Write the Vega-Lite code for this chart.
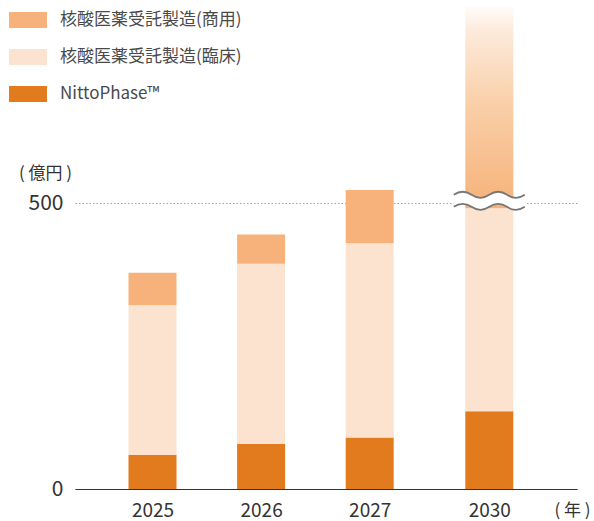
{
  "$schema": "https://vega.github.io/schema/vega-lite/v6.json",
  "autosize": {"type": "none"},
  "padding": {"left": 75, "top": 7, "right": 17, "bottom": 32},
  "width": 502,
  "height": 482,
  "background": "white",
  "config": {"view": {"stroke": null}, "font": "Noto Sans CJK JP"},
  "datasets": {
    "bars": [
      {"year": 2025, "series": "NittoPhase™", "value": 60},
      {"year": 2025, "series": "核酸医薬受託製造(臨床)", "value": 262},
      {"year": 2025, "series": "核酸医薬受託製造(商用)", "value": 56},
      {"year": 2026, "series": "NittoPhase™", "value": 79},
      {"year": 2026, "series": "核酸医薬受託製造(臨床)", "value": 315},
      {"year": 2026, "series": "核酸医薬受託製造(商用)", "value": 51},
      {"year": 2027, "series": "NittoPhase™", "value": 90},
      {"year": 2027, "series": "核酸医薬受託製造(臨床)", "value": 340},
      {"year": 2027, "series": "核酸医薬受託製造(商用)", "value": 93},
      {"year": 2030, "series": "NittoPhase™", "value": 136},
      {"year": 2030, "series": "核酸医薬受託製造(臨床)", "value": 355},
      {"year": 2030, "series": "核酸医薬受託製造(商用)", "value": 352}
    ],
    "brk": [{"year": 2030, "value": 504}]
  },
  "layer": [
    {
      "data": {"name": "bars"},
      "transform": [
        {"calculate": "indexof(['NittoPhase™','核酸医薬受託製造(臨床)','核酸医薬受託製造(商用)'], datum.series)", "as": "ord"}
      ],
      "mark": {"type": "bar", "width": 48},
      "encoding": {
        "x": {
          "field": "year", "type": "quantitative",
          "scale": {"domain": [2024.286, 2025, 2027, 2030, 2032.2], "range": [0, 77.5, 294.7, 414.3, 502], "nice": false, "zero": false, "padding": 0},
          "axis": {
            "values": [2025, 2026, 2027, 2030], "format": "d", "grid": false, "ticks": false,
            "domainColor": "#333", "domainWidth": 1.2,
            "labelFontSize": 19, "labelColor": "#333", "labelPadding": 12, "labelFlush": false,
            "title": "( 年 )", "titleFontSize": 17, "titleFontWeight": "normal", "titleColor": "#333",
            "titleX": 497, "titleY": 21, "titleAlign": "center", "titleBaseline": "middle"
          }
        },
        "y": {
          "field": "value", "type": "quantitative", "stack": "zero",
          "scale": {"domain": [0, 843], "nice": false},
          "axis": {
            "values": [0, 500], "grid": true, "gridDash": [1.5, 2], "gridColor": "#a0a0a0", "gridWidth": 1.2,
            "ticks": false, "domain": false,
            "labelFontSize": 21, "labelColor": "#333", "labelPadding": 12,
            "title": "( 億円 )", "titleAngle": 0, "titleFontSize": 17, "titleFontWeight": "normal", "titleColor": "#333",
            "titleX": -30, "titleY": 166, "titleAlign": "center", "titleBaseline": "middle"
          }
        },
        "color": {
          "field": "series", "type": "nominal",
          "condition": {
            "test": "datum.year === 2030 && datum.series === '核酸医薬受託製造(商用)'",
            "value": {
              "gradient": "linear", "x1": 0, "y1": 1, "x2": 0, "y2": 0,
              "stops": [
                {"offset": 0, "color": "#f6b27a"},
                {"offset": 0.5, "color": "#f9cea6"},
                {"offset": 0.88, "color": "#fdeadb"},
                {"offset": 1, "color": "#fffcf9"}
              ]
            }
          },
          "scale": {
            "domain": ["核酸医薬受託製造(商用)", "核酸医薬受託製造(臨床)", "NittoPhase™"],
            "range": ["#f6b27a", "#fce3cf", "#e17b1e"]
          },
          "legend": {
            "orient": "none", "legendX": -66, "legendY": -6, "title": null,
            "symbolType": "M-1,-0.42L1,-0.42L1,0.42L-1,0.42Z", "symbolSize": 1444,
            "symbolStrokeWidth": 0, "symbolOpacity": 1,
            "labelFontSize": 17, "labelColor": "#4a4a4a", "labelOffset": 13, "rowPadding": 10, "labelLimit": 400
          }
        },
        "order": {"field": "ord", "type": "quantitative"}
      }
    },
    {
      "data": {"name": "brk"},
      "mark": {"type": "point", "filled": true, "fill": "white", "strokeWidth": 0, "opacity": 1,
        "shape": "M-1,-0.17Q-0.75,-0.34,-0.5,-0.17T0,-0.17T0.5,-0.17T1,-0.17L1,0.17Q0.75,0.34,0.5,0.17T0,0.17T-0.5,0.17T-1,0.17Z",
        "size": 5041},
      "encoding": {
        "x": {"field": "year", "type": "quantitative"},
        "y": {"field": "value", "type": "quantitative"}
      }
    },
    {
      "data": {"name": "brk"},
      "mark": {"type": "point", "filled": false, "stroke": "#777", "strokeWidth": 1.8, "opacity": 1,
        "shape": "M-1,-0.17Q-0.75,-0.34,-0.5,-0.17T0,-0.17T0.5,-0.17T1,-0.17M-1,0.17Q-0.75,0,-0.5,0.17T0,0.17T0.5,0.17T1,0.17",
        "size": 5041},
      "encoding": {
        "x": {"field": "year", "type": "quantitative"},
        "y": {"field": "value", "type": "quantitative"}
      }
    }
  ]
}
